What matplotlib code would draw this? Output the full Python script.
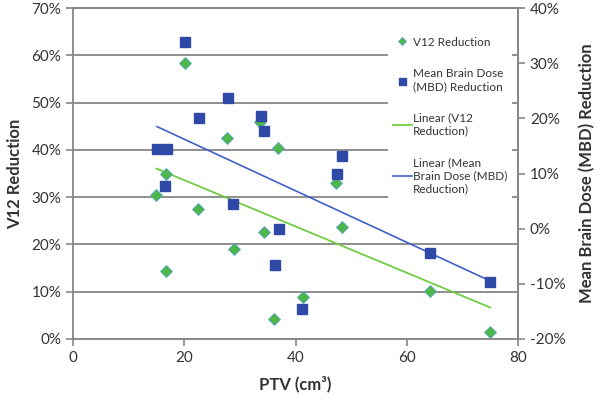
import numpy as np
import matplotlib
matplotlib.use("Agg")
import matplotlib.pyplot as plt
from matplotlib.ticker import PercentFormatter

plt.rcParams['font.family'] = ['Lato', 'DejaVu Sans']
plt.rcParams['axes.unicode_minus'] = False

# PTV (cm3) per patient
ptv = [15.0, 16.7, 16.7, 20.1, 22.5, 27.7, 28.9, 33.7, 34.3, 36.2, 36.9, 41.3, 47.3, 48.4, 64.2, 75.0]
# V12 reduction (%), left axis
v12_red = [30.5, 35.0, 14.4, 58.3, 27.5, 42.6, 19.0, 45.9, 22.7, 4.2, 40.3, 8.9, 32.9, 23.7, 10.2, 1.5]
# mean brain dose reduction (%), right axis
mbd_x = [15.1, 16.9, 16.6, 20.2, 22.6, 27.8, 28.8, 33.8, 34.4, 36.4, 37.0, 41.2, 47.4, 48.4, 64.2, 75.0]
mbd_red = [14.4, 14.4, 7.8, 33.8, 20.0, 23.6, 4.4, 20.4, 17.7, -6.6, 0.0, -14.5, 10.0, 13.2, -4.4, -9.6]

grey = '#868686'
txt = '#333333'
green = '#4cb847'
blue = '#2e4aa6'

fig = plt.figure(figsize=(6.04, 4.01), dpi=100)
ax = fig.add_axes([73 / 604, 62 / 401, 445 / 604, 331 / 401])
ax2 = ax.twinx()

# scatter points
ax.plot(ptv, v12_red, linestyle='none', marker='D', markersize=6,
        markerfacecolor=green, markeredgecolor='#5aa0c8', markeredgewidth=0.6,
        label='V12 Reduction', zorder=3)
ax2.plot(mbd_x, mbd_red, linestyle='none', marker='s', markersize=7.2,
         markerfacecolor=blue, markeredgecolor=blue, label='Mean Brain Dose\n(MBD) Reduction', zorder=3)

# linear trendlines (least squares, like Excel)
xs = np.array([min(ptv), max(ptv)])
p1 = np.polyfit(ptv, v12_red, 1)
p2 = np.polyfit(mbd_x, mbd_red, 1)
xs2 = np.array([min(mbd_x), max(mbd_x)])
ax.plot(xs, np.polyval(p1, xs), color='#66cc33', lw=1.2, label='Linear (V12\nReduction)', zorder=2)
ax2.plot(xs2, np.polyval(p2, xs2), color='#4060c8', lw=1.2,
         label='Linear (Mean\nBrain Dose (MBD)\nReduction)', zorder=2)

ax.set_xlim(0, 80)
ax.set_ylim(0, 70)
ax2.set_ylim(-20, 40)
ax.set_xticks([0, 20, 40, 60, 80])
ax.set_yticks(np.arange(0, 71, 10))
ax2.set_yticks(np.arange(-20, 41, 10))
ax.yaxis.set_major_formatter(PercentFormatter(decimals=0))
ax2.yaxis.set_major_formatter(PercentFormatter(decimals=0))

ax.grid(axis='y', color=grey, lw=1.3)
ax.set_axisbelow(True)
for a in (ax, ax2):
    for s in a.spines.values():
        s.set_color(grey)
        s.set_linewidth(1.3)
    a.tick_params(colors=grey, labelcolor=txt, labelsize=11, length=5, width=1.2)
ax.spines['top'].set_visible(True)
ax2.spines['left'].set_visible(False)
ax2.spines['bottom'].set_visible(False)

ax.set_xlabel('PTV (cm³)', fontsize=12, fontweight='bold', color=txt, labelpad=8)
ax.set_ylabel('V12 Reduction', fontsize=12, fontweight='bold', color=txt, labelpad=6)
ax2.set_ylabel('Mean Brain Dose (MBD) Reduction', fontsize=12, fontweight='bold',
               color=txt, labelpad=10)

h1, l1 = ax.get_legend_handles_labels()
h2, l2 = ax2.get_legend_handles_labels()
handles = [h1[0], h2[0], h1[1], h2[1]]
labels = [l1[0], l2[0], l1[1], l2[1]]
leg = ax2.legend(handles, labels, loc='upper left', bbox_to_anchor=(382 / 604, 1 - 26 / 401),
                 bbox_transform=fig.transFigure, fontsize=8.5, frameon=True, fancybox=False,
                 facecolor='white', edgecolor='none', framealpha=1, handlelength=1.6,
                 handletextpad=0.1, labelspacing=1.75, borderpad=0.4, markerscale=0.7)
for t in leg.get_texts():
    t.set_color(txt)

fig.savefig('out.png', dpi=100)
